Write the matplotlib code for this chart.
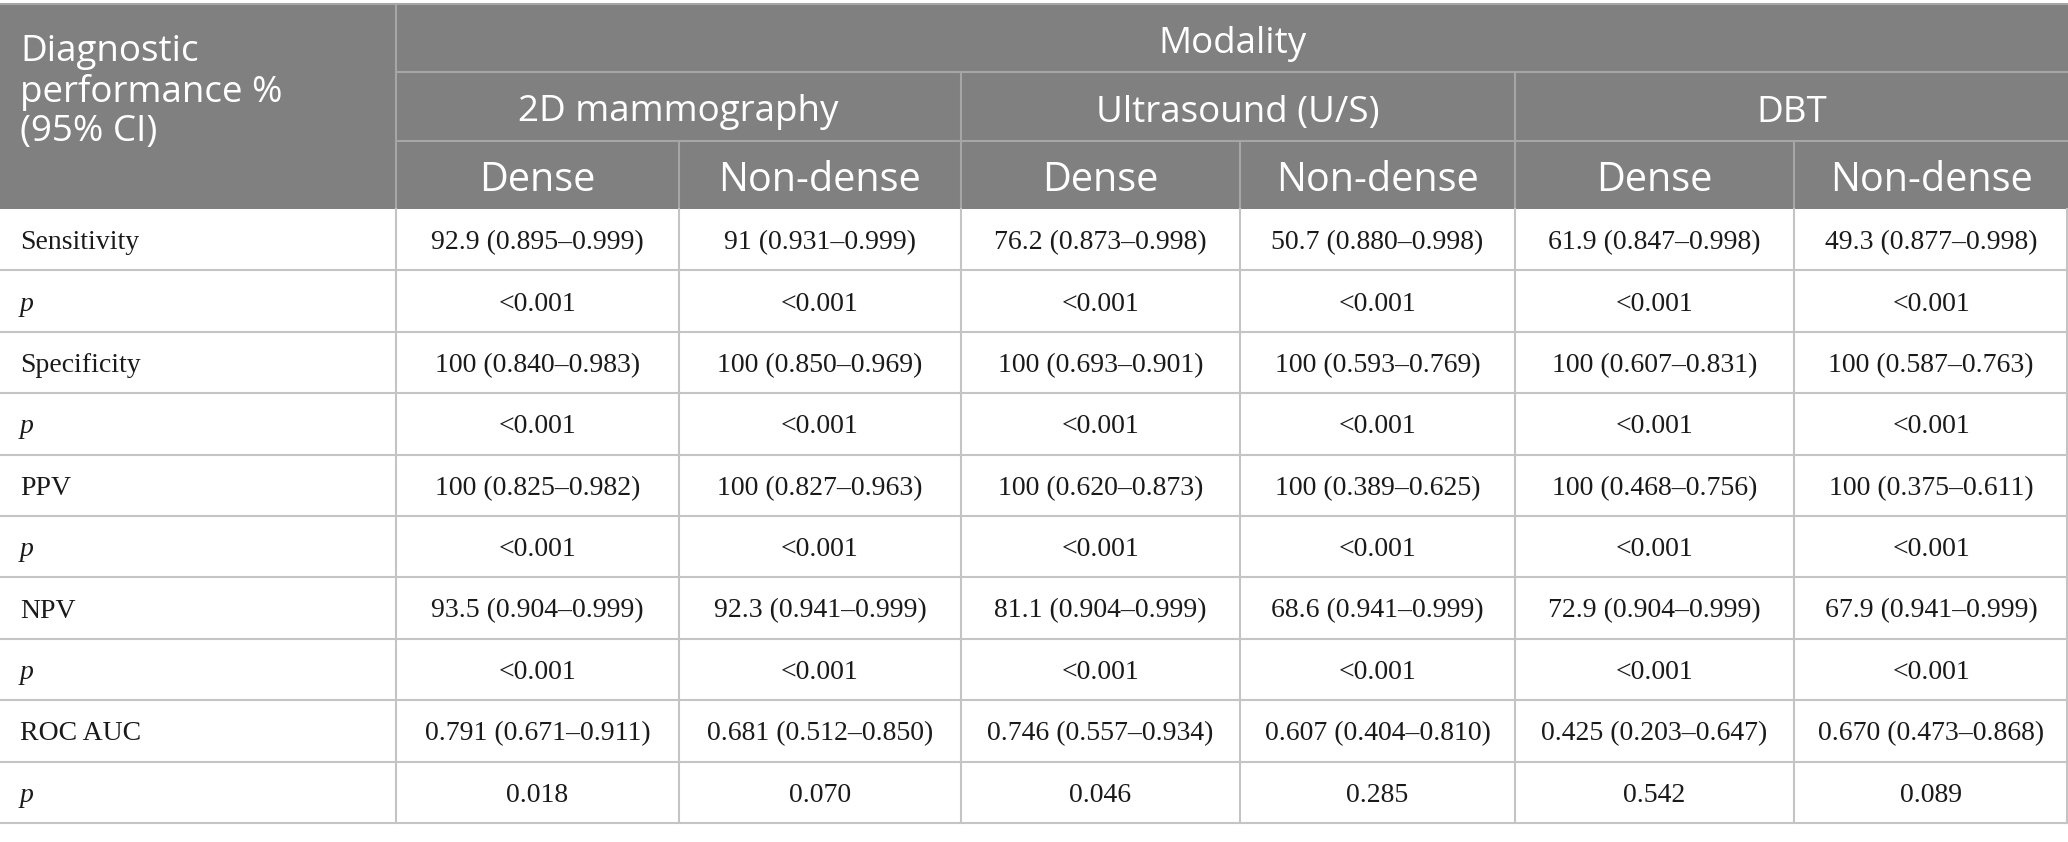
import matplotlib.pyplot as plt

W, H = 2068, 842

# table content
row_labels = ['Sensitivity', 'p', 'Specificity', 'p', 'PPV', 'p', 'NPV', 'p', 'ROC AUC', 'p']
modalities = ['2D mammography', 'Ultrasound (U/S)', 'DBT']
densities = ['Dense', 'Non-dense']
sensitivity = ['92.9 (0.895–0.999)', '91 (0.931–0.999)', '76.2 (0.873–0.998)',
               '50.7 (0.880–0.998)', '61.9 (0.847–0.998)', '49.3 (0.877–0.998)']
specificity = ['100 (0.840–0.983)', '100 (0.850–0.969)', '100 (0.693–0.901)',
               '100 (0.593–0.769)', '100 (0.607–0.831)', '100 (0.587–0.763)']
ppv = ['100 (0.825–0.982)', '100 (0.827–0.963)', '100 (0.620–0.873)',
       '100 (0.389–0.625)', '100 (0.468–0.756)', '100 (0.375–0.611)']
npv = ['93.5 (0.904–0.999)', '92.3 (0.941–0.999)', '81.1 (0.904–0.999)',
       '68.6 (0.941–0.999)', '72.9 (0.904–0.999)', '67.9 (0.941–0.999)']
roc_auc = ['0.791 (0.671–0.911)', '0.681 (0.512–0.850)', '0.746 (0.557–0.934)',
           '0.607 (0.404–0.810)', '0.425 (0.203–0.647)', '0.670 (0.473–0.868)']
p_small = ['<0.001'] * 6
p_auc = ['0.018', '0.070', '0.046', '0.285', '0.542', '0.089']
body = [sensitivity, p_small, specificity, p_small, ppv, p_small, npv, p_small, roc_auc, p_auc]

# layout (pixels)
col_x = [0, 396, 679, 961, 1240, 1515, 1794, 2068]
head_y = [4, 72, 141, 209]
row_h = 61.4
body_y = [head_y[3] + i * row_h for i in range(len(body) + 1)]

HEAD_BG = '#808080'
HEAD_LINE = '#a6a6a6'
BODY_LINE = '#c4c4c4'
SANS = 'Open Sans'
SERIF = 'Liberation Serif'

fig = plt.figure(figsize=(W / 100, H / 100), dpi=100)
ax = fig.add_axes([0, 0, 1, 1])
ax.set_xlim(0, W)
ax.set_ylim(H, 0)
ax.axis('off')

# header block
ax.add_patch(plt.Rectangle((0, head_y[0]), W, head_y[3] - head_y[0], facecolor=HEAD_BG, edgecolor='none', zorder=0))
ax.plot([0, W], [head_y[0], head_y[0]], color=HEAD_LINE, lw=1.5)
for y in head_y[1:3]:
    ax.plot([col_x[1], W], [y, y], color=HEAD_LINE, lw=1.5)
ax.plot([col_x[1], col_x[1]], [head_y[0], head_y[3]], color=HEAD_LINE, lw=1.5)
for x in (col_x[3], col_x[5]):
    ax.plot([x, x], [head_y[1], head_y[3]], color=HEAD_LINE, lw=1.5)
for x in (col_x[2], col_x[4], col_x[6]):
    ax.plot([x, x], [head_y[2], head_y[3]], color=HEAD_LINE, lw=1.5)

hfs = 26.5
sfs = 28.5
dy = 6  # Open Sans sits high with va='center'
ax.text(20, 92, 'Diagnostic\nperformance %\n(95% CI)', ha='left', va='center', color='white',
        fontsize=hfs, family=SANS, linespacing=1.14)
ax.text((col_x[1] + W) / 2, (head_y[0] + head_y[1]) / 2 + dy, 'Modality', ha='center', va='center',
        color='white', fontsize=hfs, family=SANS)
for i, m in enumerate(modalities):
    xc = (col_x[1 + 2 * i] + col_x[3 + 2 * i]) / 2
    ax.text(xc, (head_y[1] + head_y[2]) / 2 + dy, m, ha='center', va='center', color='white',
            fontsize=hfs, family=SANS)
for j in range(6):
    xc = (col_x[1 + j] + col_x[2 + j]) / 2
    ax.text(xc, (head_y[2] + head_y[3]) / 2 + dy, densities[j % 2], ha='center', va='center',
            color='white', fontsize=sfs, family=SANS)

# body grid
for y in body_y[1:]:
    ax.plot([0, W], [y, y], color=BODY_LINE, lw=1.5)
for x in col_x[1:-1]:
    ax.plot([x, x], [body_y[0], body_y[-1]], color=BODY_LINE, lw=1.5)
ax.plot([W - 1, W - 1], [body_y[0], body_y[-1]], color=BODY_LINE, lw=1.5)

bfs = 20
for r, (label, vals) in enumerate(zip(row_labels, body)):
    yc = (body_y[r] + body_y[r + 1]) / 2 + 3
    ax.text(20, yc, label, ha='left', va='center', fontsize=bfs, family=SERIF, color='#1a1a1a',
            style='italic' if label == 'p' else 'normal')
    for j, v in enumerate(vals):
        xc = (col_x[1 + j] + col_x[2 + j]) / 2
        ax.text(xc, yc, v, ha='center', va='center', fontsize=bfs, family=SERIF, color='#1a1a1a')

fig.savefig('out.png', dpi=100, facecolor='white')
